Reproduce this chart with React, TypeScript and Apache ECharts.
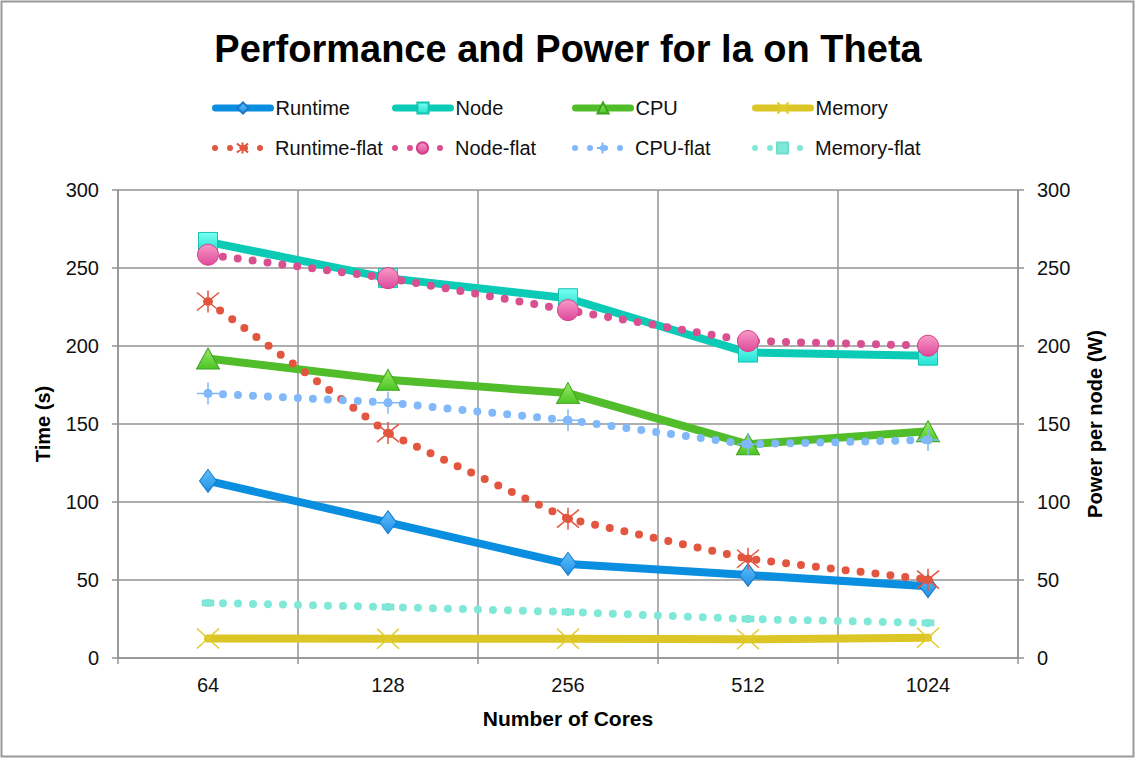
import React, { useEffect, useRef } from "react";
import * as echarts from "echarts";

const categories = ["64", "128", "256", "512", "1024"];
const runtime = [113.5, 87, 60.3, 53.2, 46];
const node = [266.7, 243.5, 230.6, 195.8, 193.8];
const cpu = [192, 178.3, 169.8, 137, 145.3];
const memory = [12.5, 12.4, 12.3, 12, 13];
const runtimeFlat = [228.5, 144.2, 89.3, 63.6, 50.2];
const nodeFlat = [258.5, 243.5, 223, 203.2, 200.2];
const cpuFlat = [169.6, 163.7, 152.4, 137, 139.8];
const memoryFlat = [35.3, 32.7, 29.5, 25, 22.5];

const legendRow1 = ["Runtime", "Node", "CPU", "Memory"];
const legendRow2 = ["Runtime-flat", "Node-flat", "CPU-flat", "Memory-flat"];

const FONT = "'Liberation Sans', Arial, Helvetica, sans-serif";
const GRID = "#939393";

function grad(top: string, bottom: string) {
  return {
    type: "linear",
    x: 0,
    y: 0,
    x2: 0,
    y2: 1,
    colorStops: [
      { offset: 0, color: top },
      { offset: 1, color: bottom },
    ],
  };
}

const dotted = [0, 15];

export default function App() {
  const ref = useRef<HTMLDivElement>(null);
  useEffect(() => {
    document.body.style.margin = "0";
    if (!ref.current) return;
    const chart = echarts.init(ref.current, undefined, { renderer: "svg" });
    const legends: any[] = [];
    [legendRow1, legendRow2].forEach((row, r) => {
      row.forEach((name, c) => {
        legends.push({
          data: [name],
          left: 212 + c * 180,
          top: r === 0 ? 98 : 138,
          padding: 0,
          itemWidth: 55,
          itemHeight: 14,
          selectedMode: false,
          lineStyle: { width: r === 0 ? 7 : 6, cap: "round" },
          textStyle: { fontSize: 20, color: "#111", fontFamily: FONT },
        });
      });
    });

    const solid = (name: string, data: number[], color: string, yIdx: number, symbol: string, size: any, item: any) => ({
      name,
      type: "line",
      data,
      yAxisIndex: yIdx,
      symbol,
      symbolSize: size,
      lineStyle: { color, width: 8, cap: "round", join: "round" },
      itemStyle: item,
      emphasis: { disabled: true },
      z: 2,
    });
    const flat = (name: string, data: number[], color: string, yIdx: number, symbol: string, size: any, item: any) => ({
      name,
      type: "line",
      data,
      yAxisIndex: yIdx,
      symbol,
      symbolSize: size,
      lineStyle: { color, width: 8, type: dotted, cap: "round" },
      itemStyle: item,
      emphasis: { disabled: true },
      z: 3,
    });

    const option: any = {
      animation: false,
      textStyle: { fontFamily: FONT },
      title: {
        text: "Performance and Power for la on Theta",
        left: "center",
        top: 25,
        textStyle: { fontSize: 38, fontWeight: "bold", color: "#000", fontFamily: FONT },
      },
      legend: legends,
      graphic: [
        {
          type: "rect",
          shape: { x: 1.5, y: 1.5, width: 1132, height: 755 },
          style: { fill: "none", stroke: "#9a9a9a", lineWidth: 2 },
          silent: true,
        },
      ],
      grid: { left: 118, right: 118, top: 190, bottom: 102 },
      xAxis: {
        type: "category",
        data: categories,
        boundaryGap: true,
        axisLine: { lineStyle: { color: GRID, width: 1.5 } },
        axisTick: { show: true, length: 6, lineStyle: { color: GRID, width: 1.5 } },
        axisLabel: { fontSize: 20, color: "#111", margin: 17 },
        splitLine: { show: true, lineStyle: { color: GRID, width: 1.5 } },
        name: "Number of Cores",
        nameLocation: "middle",
        nameGap: 50,
        nameTextStyle: { fontSize: 21, fontWeight: "bold", color: "#000" },
      },
      yAxis: [
        {
          type: "value",
          min: 0,
          max: 300,
          interval: 50,
          position: "left",
          axisLine: { show: true, lineStyle: { color: GRID, width: 1.5 } },
          axisTick: { show: true, length: 6, lineStyle: { color: GRID, width: 1.5 } },
          axisLabel: { fontSize: 20, color: "#111", margin: 19 },
          splitLine: { show: true, lineStyle: { color: GRID, width: 1.5 } },
          name: "Time (s)",
          nameLocation: "middle",
          nameRotate: 90,
          nameGap: 65,
          nameTextStyle: { fontSize: 20, fontWeight: "bold", color: "#000" },
        },
        {
          type: "value",
          min: 0,
          max: 300,
          interval: 50,
          position: "right",
          axisLine: { show: true, lineStyle: { color: GRID, width: 1.5 } },
          axisTick: { show: true, length: 6, lineStyle: { color: GRID, width: 1.5 } },
          axisLabel: { fontSize: 20, color: "#111", margin: 19 },
          splitLine: { show: false },
          name: "Power per node (W)",
          nameLocation: "middle",
          nameRotate: 90,
          nameGap: 67,
          nameTextStyle: { fontSize: 20, fontWeight: "bold", color: "#000" },
        },
      ],
      series: [
        solid("Runtime", runtime, "#0a8ee0", 0, "diamond", [17, 23], {
          color: grad("#62c0fa", "#1e8fe6"),
          borderColor: "#1878c8",
          borderWidth: 1,
        }),
        solid("Node", node, "#0ccbb6", 1, "rect", 19, {
          color: grad("#7afff4", "#22e2d0"),
          borderColor: "#14c4b0",
          borderWidth: 1,
        }),
        solid("CPU", cpu, "#52bd2a", 1, "triangle", [23, 21], {
          color: grad("#9aec66", "#4cc424"),
          borderColor: "#3da21e",
          borderWidth: 1,
        }),
        solid("Memory", memory, "#dcc626", 1, "path://M0,0L20,20M20,0L0,20", [22, 20], {
          color: "#dcc626",
          borderColor: "#e2cc30",
          borderWidth: 1.5,
        }),
        flat(
          "Runtime-flat",
          runtimeFlat,
          "#e2553f",
          0,
          "path://M1,1L19,19M19,1L1,19M10,-1L10,21M13.5,10A3.5,3.5,0,1,1,6.5,10A3.5,3.5,0,1,1,13.5,10Z",
          22,
          { color: "#e2553f", borderColor: "#e2553f", borderWidth: 1.5 }
        ),
        flat("Node-flat", nodeFlat, "#d8508f", 1, "circle", 21, {
          color: grad("#f79ac8", "#e0489a"),
          borderColor: "#d2428a",
          borderWidth: 1,
        }),
        flat(
          "CPU-flat",
          cpuFlat,
          "#80b8fa",
          1,
          "path://M0,10L20,10M10,0L10,20M13.5,10A3.5,3.5,0,1,1,6.5,10A3.5,3.5,0,1,1,13.5,10Z",
          22,
          { color: "#80b8fa", borderColor: "#80b8fa", borderWidth: 1.5 }
        ),
        flat("Memory-flat", memoryFlat, "#80e8d8", 1, "path://M0,0L12,0L12,6L0,6Z", [12, 6], {
          color: "#80e8d8",
          borderColor: "#70dccc",
          borderWidth: 0.5,
        }),
      ],
    };
    chart.setOption(option);
    return () => chart.dispose();
  }, []);
  return <div ref={ref} style={{ width: 1136, height: 760, background: "#fff" }} />;
}
